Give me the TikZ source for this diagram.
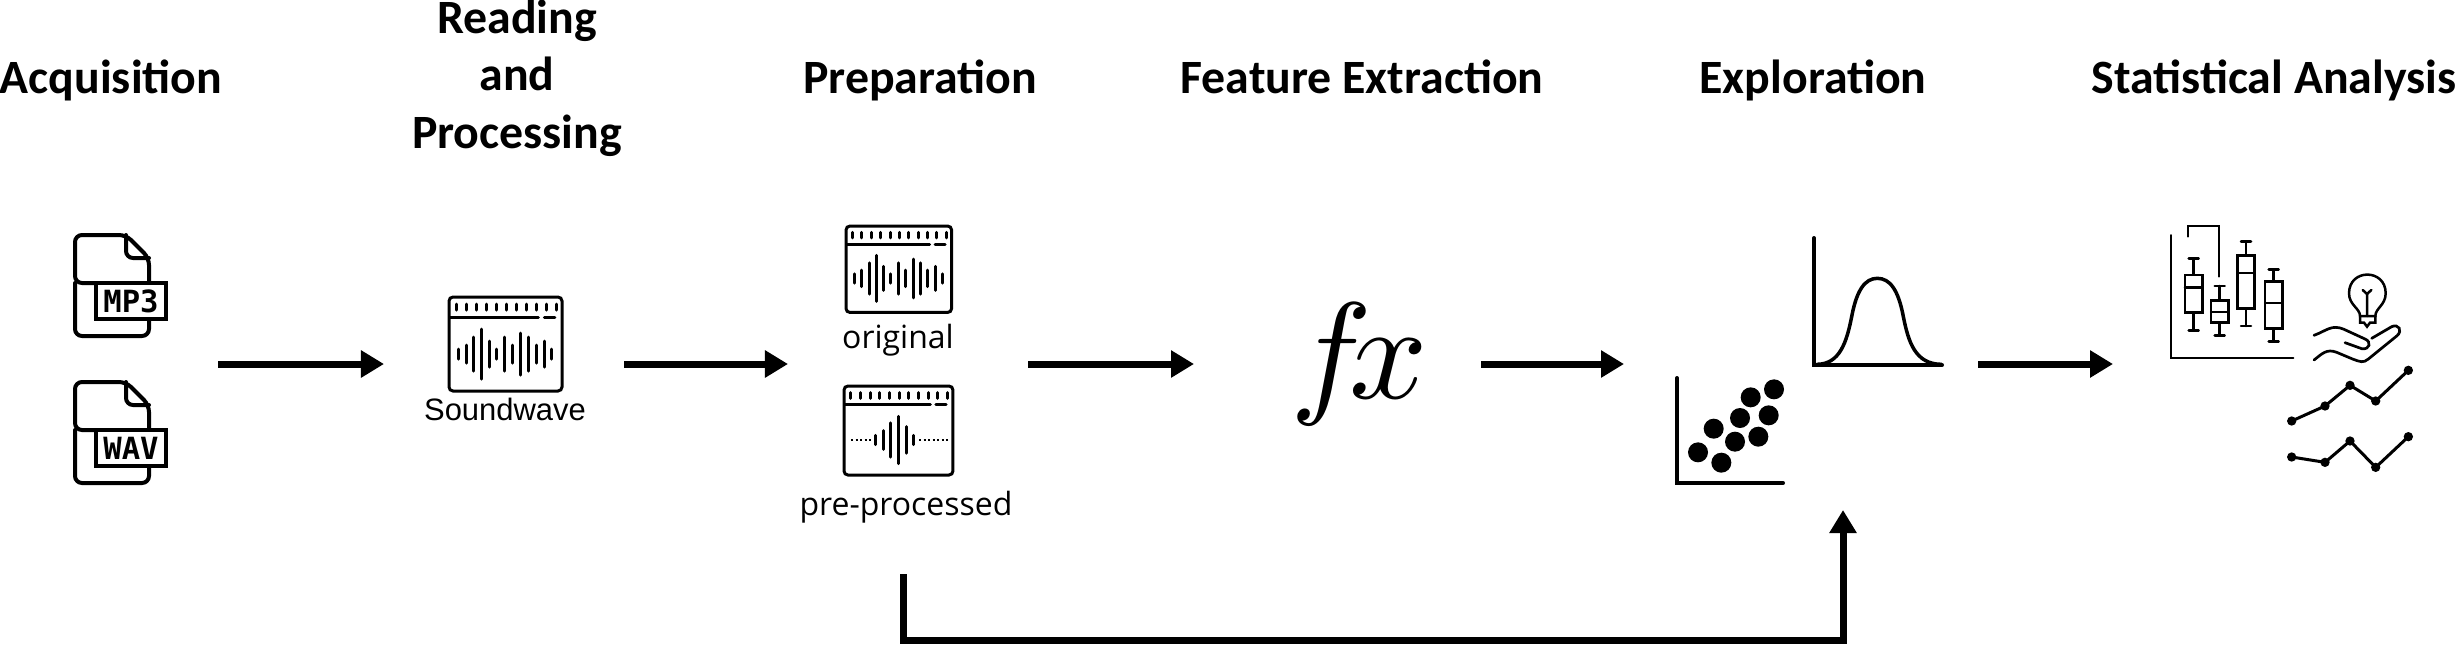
\documentclass[tikz,border=0pt]{standalone}
\usepackage{fontspec}
\setmainfont{Carlito}
\newfontfamily\sndfont{Liberation Sans}
\newfontfamily\capfont{Open Sans}
\newfontfamily\tagfont{DejaVu Sans Mono}
\usetikzlibrary{positioning, arrows.meta}

% icon of a sound window: x, y, xscale, yscale, then its bars
\newcommand{\wavewin}[5]{
    \begin{scope}[shift={(#1,#2)}, xscale=#3, yscale=#4, thinline]
        \draw[rounded corners=.04cm] (0,0) rectangle (96,94);
        \foreach \tickx in {6,14.5,...,92}
            \draw (\tickx,7) -- (\tickx,13);
        \draw (1,20) -- (76,20);
        \draw (81,20) -- (90,20);
        \foreach \barx/\barh in {#5}
            \draw (\barx,57-\barh) -- (\barx,57+\barh);
    \end{scope}
}
% icon of a file with a tag on it
\newcommand{\fileicon}[3]{
    \begin{scope}[shift={(#1,#2)}, line width=.04cm, line cap=round]
        \draw[rounded corners=.07cm] (21,48) -- (0,48) -- (0,0) -- (51,0) -- (74,23) -- (74,48);
        \draw[rounded corners=.07cm] (74,84) -- (74,101) -- (0,101) -- (0,48);
        \draw[rounded corners=.07cm] (51,0) -- (51,23) -- (74,23);
        \draw[fill=white] (21,48) rectangle (91,84);
        \node[tagtext] (#3) at (56,66) {#3};
    \end{scope}
}

\begin{document}
\begin{tikzpicture}[
    x=.01cm, y=-.01cm,
    % Styles
    heading/.style={% For the names of the stages
        font=\fontsize{13.6}{16.4}\selectfont\bfseries,
        align=center,
        inner sep=0pt,
        anchor=base,
    },
    thinline/.style={
        line width=.03cm,
        line cap=round,
    },
    tagtext/.style={
        font=\fontsize{8.7}{9}\selectfont\tagfont\bfseries,
        inner sep=0pt,
    },
    flow/.style={% For the thick arrows
        line width=.07cm,
        -{Triangle[length=.23cm,width=.26cm]},
    },
    caption/.style={
        font=\fontsize{9.1}{10}\selectfont\capfont,
        inner sep=0pt,
        anchor=base,
    },
    ]
    \useasboundingbox (0,0) rectangle (2458,645);

    % Headings
    \node[heading] (acq) at (111,93) {Acquisition};
    \node[heading, anchor=center] (read) at (517,78) {Reading\\and\\Processing};
    \node[heading] (prep) at (920,93) {Preparation};
    \node[heading] (feat) at (1362,93) {Feature Extraction};
    \node[heading] (expl) at (1813,93) {Exploration};
    \node[heading] (stat) at (2274,93) {Statistical Analysis};

    % Files
    \fileicon{75}{235}{MP3}
    \fileicon{75}{382}{WAV}

    % Sound windows
    \wavewin{449}{297}{1.177}{1}{8/5,14.5/9,21/17,27.5/25,34/13,40.5/5,47.5/17,54/9,61/21,67.5/17,74/9,81/13,87.5/5}
    \wavewin{846}{226}{1.1}{.92}{8/5,14.5/9,21/17,27.5/25,34/13,40.5/5,47.5/17,54/9,61/21,67.5/17,74/9,81/13,87.5/5}
    \wavewin{844}{386}{1.135}{.947}{28/5,35/10,41/18,48/25,55/14,61/5}
    \draw[line width=.02cm, dash pattern=on .02cm off .025cm] (851,440) -- (873,440);
    \draw[line width=.02cm, dash pattern=on .02cm off .025cm] (919,440) -- (948,440);

    \node[font=\fontsize{8.8}{10}\selectfont\sndfont, inner sep=0pt, anchor=base] (sound) at (505,420) {Soundwave};
    \node[caption] (orig) at (898,348) {original};
    \node[caption] (pre) at (906,515) {pre-processed};

    % Function
    \node[scale=3.9, inner sep=0pt] (fx) at (1359,364) {$f\mkern-3mu x$};

    % Scatter
    \draw[line width=.04cm, line cap=round] (1677,378) |- (1783,483);
    \foreach \dotx/\doty in {402/538,332/562,386/616,300/624,221/656,355/680,285/695,174/727,244/758}
        \fill ({1640+\dotx/3},{210+\doty/3}) circle (10);

    % Bell curve
    \draw[line width=.04cm, line cap=round] (1814,238) |- (1942,365);
    \begin{scope}[shift={(1640,210)}, scale=1/3]
        \draw[line width=.035cm] (530,463) .. controls (600,463) and (620,395) .. (635,320)
            .. controls (650,240) and (675,205) .. (712,205)
            .. controls (750,205) and (775,240) .. (790,320)
            .. controls (805,395) and (825,463) .. (905,463);
    \end{scope}

    % Statistics
    \begin{scope}[shift={(2140,210)}, scale=1/3, line width=.02cm, line cap=round]
        \draw (93,75) |- (460,443);
        \draw (144,80) |- (238,47) -- (238,200);
        \foreach \wx/\wt/\wb/\bl/\br/\bt/\bb/\bm in {161/145/362/135/187/195/307/232,
            239/228/376/213/266/272/338/306,
            318/95/348/292/344/137/296/189,
            401/178/395/375/427/215/356/279}{
            \draw[line width=.025cm] (\wx,\wt) -- (\wx,\wb);
            \draw[line width=.025cm] (\wx-15,\wt) -- (\wx+15,\wt);
            \draw[line width=.025cm] (\wx-15,\wb) -- (\wx+15,\wb);
            \draw[line width=.025cm, fill=white] (\bl,\bt) rectangle (\br,\bb);
            \draw[line width=.025cm] (\bl,\bm) -- (\br,\bm);
        }
        % Bulb
        \draw[line width=.025cm] (660,318) .. controls (660,295) and (627,285) .. (627,250)
            .. controls (627,175) and (737,175) .. (737,250)
            .. controls (737,285) and (706,295) .. (706,318) -- cycle;
        \draw[line width=.025cm] (660,318) -- (660,338) -- (672,338) -- (681,350) -- (690,338) -- (706,338) -- (706,318);
        \draw[line width=.025cm] (681,318) -- (681,252) -- (668,240);
        \draw[line width=.025cm] (681,252) -- (694,240);
        % Hand
        \draw[line width=.027cm] (522,376) .. controls (560,362) and (575,342) .. (612,358) -- (675,387)
            .. controls (695,395) and (690,420) .. (665,416) -- (615,398);
        \draw[line width=.027cm] (695,385) -- (755,350) .. controls (775,340) and (790,362) .. (770,378)
            -- (685,447) .. controls (670,460) and (660,455) .. (640,448) -- (590,427)
            .. controls (560,415) and (545,432) .. (522,450);
        % Line charts
        \draw[line width=.03cm] (455,633) -- (555,588) -- (630,526) -- (707,573) -- (805,481);
        \draw[line width=.03cm] (455,741) -- (555,757) -- (630,693) -- (707,772) -- (805,680);
        \foreach \dotx/\doty in {455/633,555/588,630/526,707/573,805/481,455/741,555/757,630/693,707/772,805/680}
            \fill (\dotx,\doty) circle (14);
    \end{scope}

    % Coordinates
    \coordinate (a1) at (218,364);
    \coordinate (b1) at (384,364);
    \coordinate (a2) at (624,364);
    \coordinate (b2) at (788,364);
    \coordinate (a3) at (1028,364);
    \coordinate (b3) at (1194,364);
    \coordinate (a4) at (1481,364);
    \coordinate (b4) at (1624,364);
    \coordinate (a5) at (1978,364);
    \coordinate (b5) at (2113,364);
    \coordinate (c1) at (903,574);
    \coordinate (c2) at (1843,640);
    \coordinate (c3) at (1843,510);

    % Arrows
    \draw[flow] (a1) -- (b1);
    \draw[flow] (a2) -- (b2);
    \draw[flow] (a3) -- (b3);
    \draw[flow] (a4) -- (b4);
    \draw[flow] (a5) -- (b5);
    \draw[flow] (c1) |- (c2) -- (c3);
\end{tikzpicture}
\end{document}
